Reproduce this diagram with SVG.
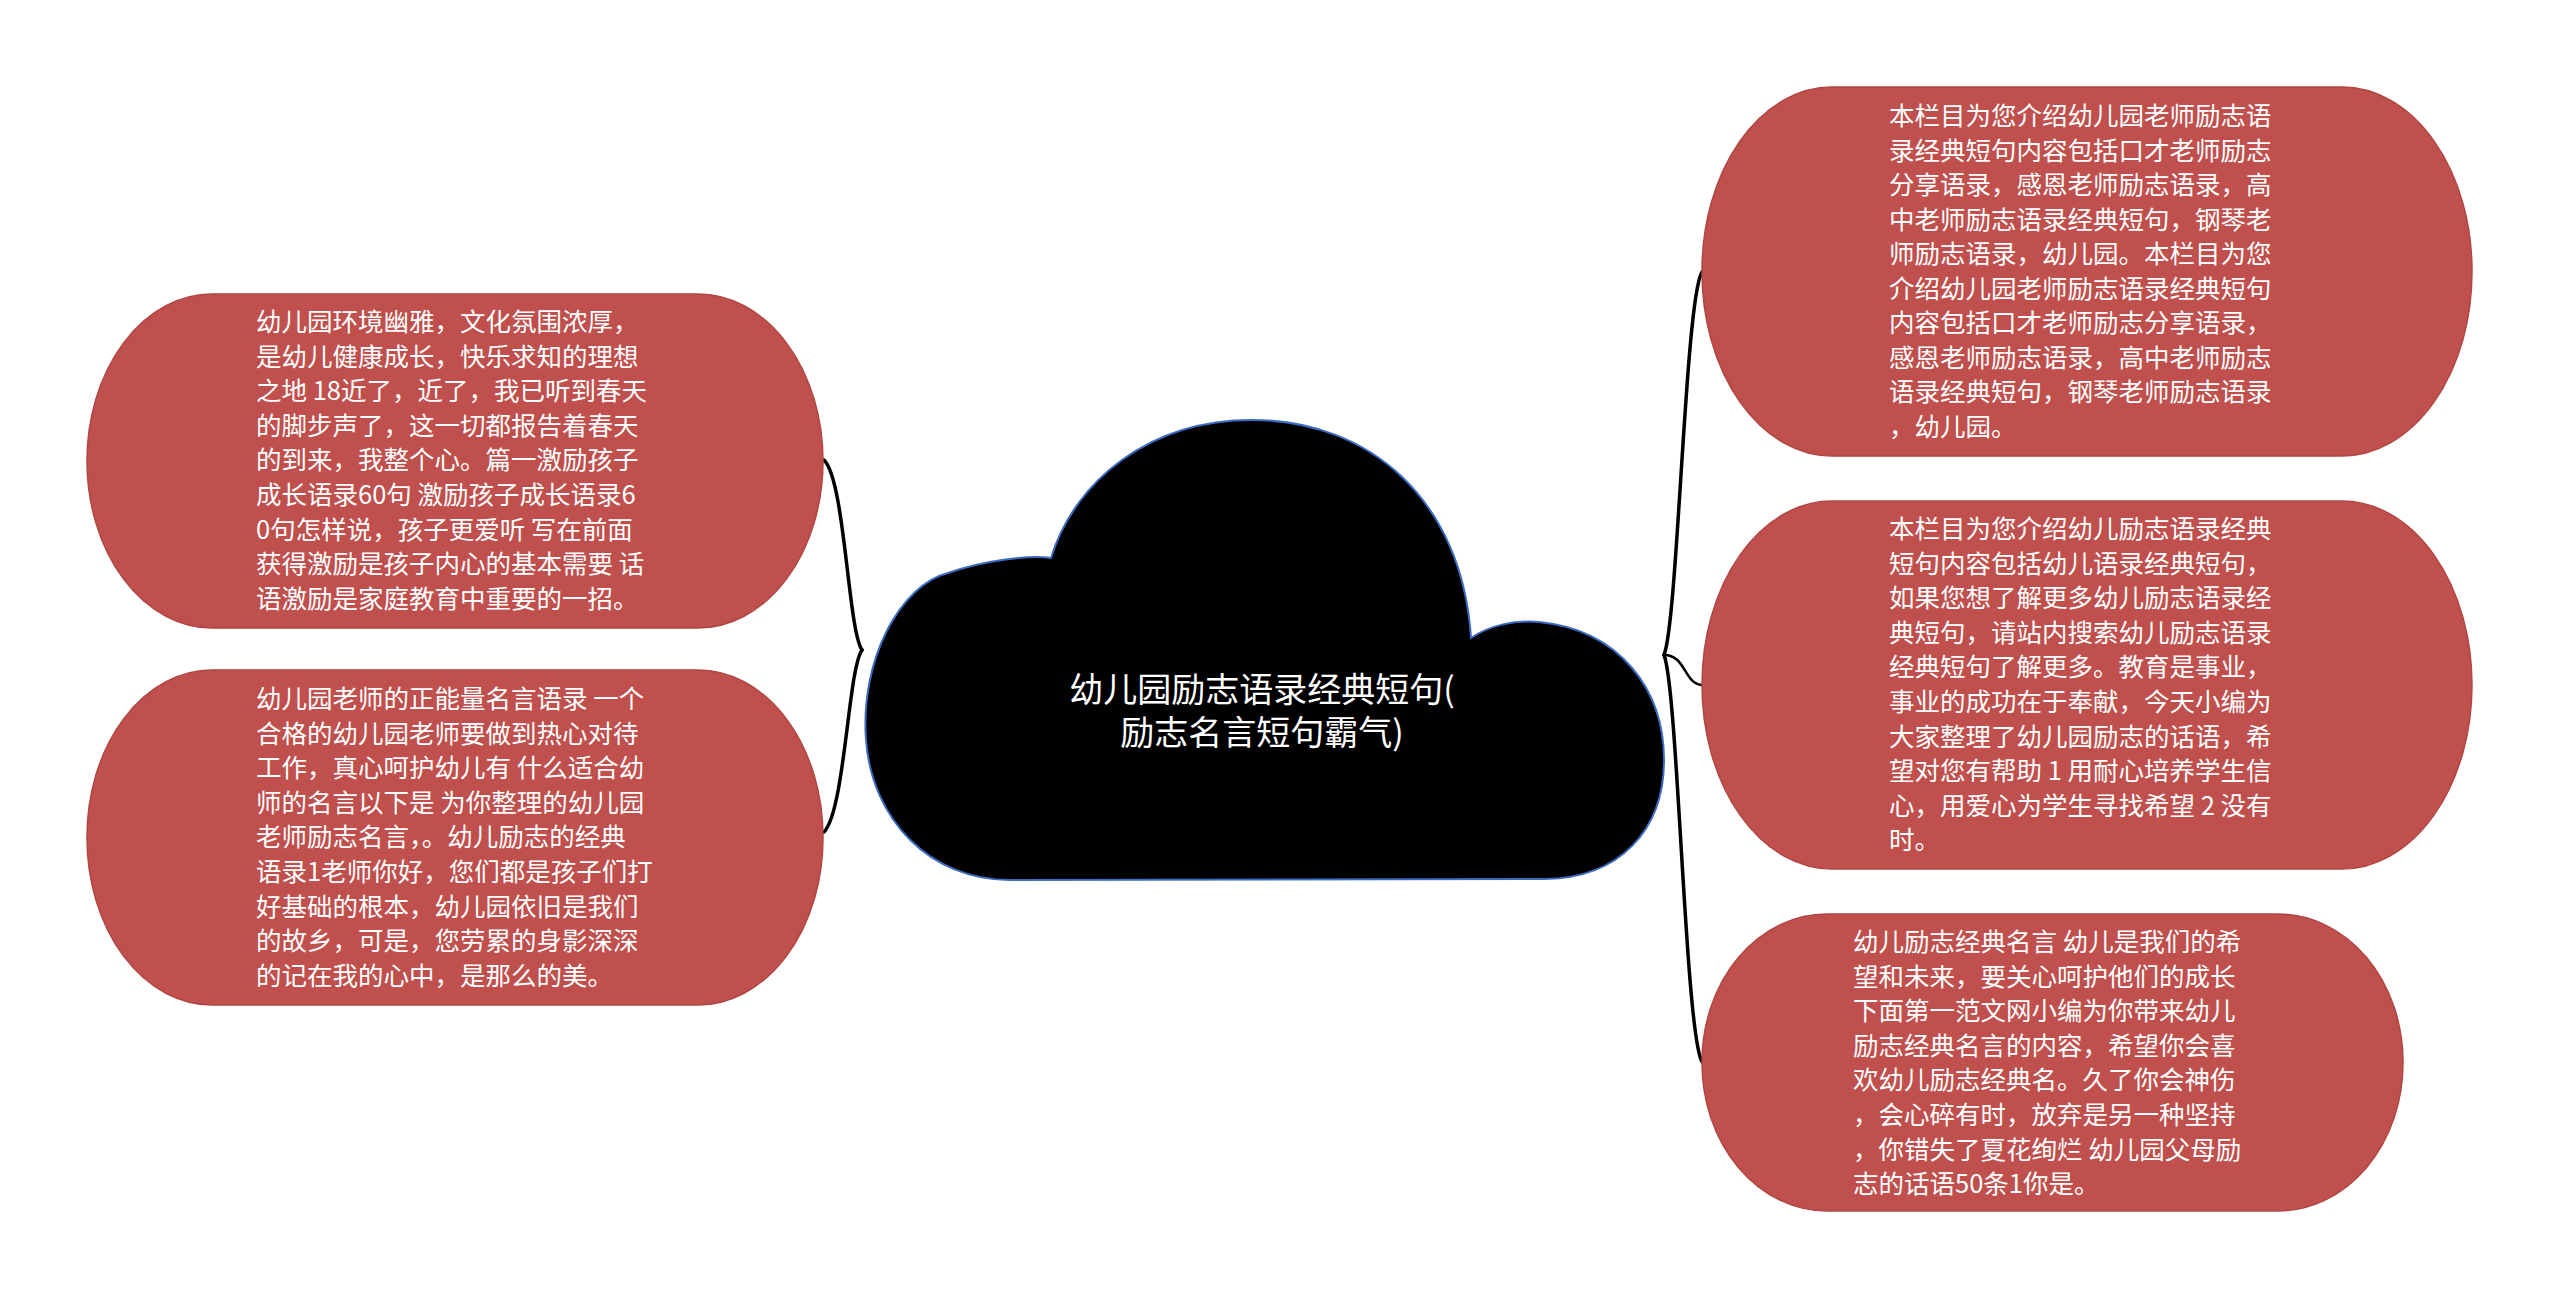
<svg xmlns="http://www.w3.org/2000/svg" width="2560" height="1300" viewBox="0 0 2560 1300">
<defs>
<style>
.node{fill:#c0504d;stroke:#b04542;stroke-width:1.5}
.t{font-family:"Noto Sans CJK SC","Noto Sans",sans-serif;font-size:25.5px;fill:#ffffff}
.ct{font-family:"Noto Sans CJK SC","Noto Sans",sans-serif;font-size:34px;fill:#ffffff}
.edge{fill:none;stroke:#000000;stroke-width:3.5;stroke-linecap:round}
</style>
</defs>
<rect width="2560" height="1300" fill="#ffffff"/>
<g id="connectors">
<path class="edge" d="M862 650 C848 630 845 480 824 460"/>
<path class="edge" d="M862 650 C848 670 845 810 824 832"/>
<path class="edge" d="M1664 655 C1678 620 1685 300 1702 272"/>
<path class="edge" d="M1664 655 C1686 655 1684 684 1702 685" style="stroke-width:2.5"/>
<path class="edge" d="M1664 655 C1678 690 1685 1030 1702 1062"/>
</g>
<g id="center">
<path d="M1010 880 C930 880 872 820 866 740 C860 660 900 585 948 573 C985 560 1030 555 1051 558 C1075 480 1150 420 1252 420 C1370 420 1462 500 1471 638 C1490 625 1515 620 1539 622 C1620 630 1664 690 1664 760 C1664 830 1620 878 1545 879 Z" fill="#000000" stroke="#3a6bc0" stroke-width="2"/>
<text class="ct" x="1262" y="702" text-anchor="middle">幼儿园励志语录经典短句(</text>
<text class="ct" x="1262" y="745" text-anchor="middle">励志名言短句霸气)</text>
</g>
<g id="node-left-1">
<rect class="node" x="87" y="294" width="736" height="334" rx="125" ry="167"/>
<text class="t" x="256" y="331"><tspan x="256">幼儿园环境幽雅，文化氛围浓厚，</tspan><tspan x="256" dy="34.6">是幼儿健康成长，快乐求知的理想</tspan><tspan x="256" dy="34.6">之地 18近了，近了，我已听到春天</tspan><tspan x="256" dy="34.6">的脚步声了，这一切都报告着春天</tspan><tspan x="256" dy="34.6">的到来，我整个心。篇一激励孩子</tspan><tspan x="256" dy="34.6">成长语录60句 激励孩子成长语录6</tspan><tspan x="256" dy="34.6">0句怎样说，孩子更爱听 写在前面</tspan><tspan x="256" dy="34.6">获得激励是孩子内心的基本需要 话</tspan><tspan x="256" dy="34.6">语激励是家庭教育中重要的一招。</tspan></text>
</g>
<g id="node-left-2">
<rect class="node" x="87" y="670" width="736" height="335" rx="125" ry="167"/>
<text class="t" x="256" y="708"><tspan x="256">幼儿园老师的正能量名言语录 一个</tspan><tspan x="256" dy="34.6">合格的幼儿园老师要做到热心对待</tspan><tspan x="256" dy="34.6">工作，真心呵护幼儿有 什么适合幼</tspan><tspan x="256" dy="34.6">师的名言以下是 为你整理的幼儿园</tspan><tspan x="256" dy="34.6">老师励志名言，。幼儿励志的经典</tspan><tspan x="256" dy="34.6">语录1老师你好，您们都是孩子们打</tspan><tspan x="256" dy="34.6">好基础的根本，幼儿园依旧是我们</tspan><tspan x="256" dy="34.6">的故乡，可是，您劳累的身影深深</tspan><tspan x="256" dy="34.6">的记在我的心中，是那么的美。</tspan></text>
</g>
<g id="node-right-1">
<rect class="node" x="1702" y="87" width="770" height="369" rx="130" ry="184"/>
<text class="t" x="1889" y="125"><tspan x="1889">本栏目为您介绍幼儿园老师励志语</tspan><tspan x="1889" dy="34.5">录经典短句内容包括口才老师励志</tspan><tspan x="1889" dy="34.5">分享语录，感恩老师励志语录，高</tspan><tspan x="1889" dy="34.5">中老师励志语录经典短句，钢琴老</tspan><tspan x="1889" dy="34.5">师励志语录，幼儿园。本栏目为您</tspan><tspan x="1889" dy="34.5">介绍幼儿园老师励志语录经典短句</tspan><tspan x="1889" dy="34.5">内容包括口才老师励志分享语录，</tspan><tspan x="1889" dy="34.5">感恩老师励志语录，高中老师励志</tspan><tspan x="1889" dy="34.5">语录经典短句，钢琴老师励志语录</tspan><tspan x="1889" dy="34.5">，幼儿园。</tspan></text>
</g>
<g id="node-right-2">
<rect class="node" x="1702" y="501" width="770" height="368" rx="130" ry="184"/>
<text class="t" x="1889" y="538"><tspan x="1889">本栏目为您介绍幼儿励志语录经典</tspan><tspan x="1889" dy="34.6">短句内容包括幼儿语录经典短句，</tspan><tspan x="1889" dy="34.6">如果您想了解更多幼儿励志语录经</tspan><tspan x="1889" dy="34.6">典短句，请站内搜索幼儿励志语录</tspan><tspan x="1889" dy="34.6">经典短句了解更多。教育是事业，</tspan><tspan x="1889" dy="34.6">事业的成功在于奉献，今天小编为</tspan><tspan x="1889" dy="34.6">大家整理了幼儿园励志的话语，希</tspan><tspan x="1889" dy="34.6">望对您有帮助 1 用耐心培养学生信</tspan><tspan x="1889" dy="34.6">心，用爱心为学生寻找希望 2 没有</tspan><tspan x="1889" dy="34.6">时。</tspan></text>
</g>
<g id="node-right-3">
<rect class="node" x="1702" y="914" width="701" height="297" rx="125" ry="148"/>
<text class="t" x="1853" y="951"><tspan x="1853">幼儿励志经典名言 幼儿是我们的希</tspan><tspan x="1853" dy="34.6">望和未来，要关心呵护他们的成长</tspan><tspan x="1853" dy="34.6">下面第一范文网小编为你带来幼儿</tspan><tspan x="1853" dy="34.6">励志经典名言的内容，希望你会喜</tspan><tspan x="1853" dy="34.6">欢幼儿励志经典名。久了你会神伤</tspan><tspan x="1853" dy="34.6">，会心碎有时，放弃是另一种坚持</tspan><tspan x="1853" dy="34.6">，你错失了夏花绚烂 幼儿园父母励</tspan><tspan x="1853" dy="34.6">志的话语50条1你是。</tspan></text>
</g>
</svg>
